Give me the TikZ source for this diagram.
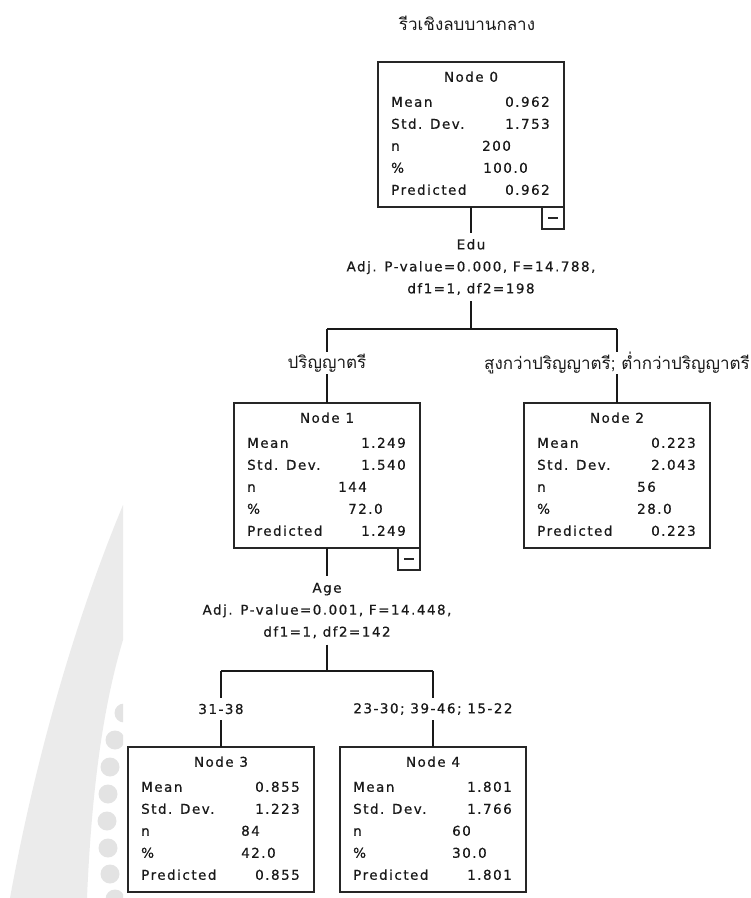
\documentclass[tikz,border=0pt]{standalone}
\usepackage{fontspec}
\setmainfont{DejaVu Sans}
\newfontfamily\boxfont[LetterSpace=11,FakeBold=0.6]{DejaVu Sans}
\newfontfamily\thaifont[Script=Thai]{Loma}
\usetikzlibrary{positioning}

\newcommand\statfont{\boxfont\fontsize{13.5}{22}\selectfont}
\newcommand\thaisize{\thaifont\fontsize{17}{20}\selectfont}

\tikzset{
  treeline/.style={line width=1.2pt, draw=black!90},
  statframe/.style={draw=black!85, line width=1.3pt, minimum width=186pt,
    minimum height=145pt, inner sep=0pt, outer sep=0pt, anchor=north west},
  minusbox/.style={draw=black!85, line width=1.1pt, minimum size=22pt,
    inner sep=0pt, outer sep=0pt, anchor=north east,
    path picture={\draw[line width=1.1pt]
      ([xshift=-5pt]path picture bounding box.center) --
      ([xshift=5pt]path picture bounding box.center);}},
  cell/.style={inner sep=0pt, text height=9.5pt, text depth=0pt,
    font=\statfont, text=black!90},
  splitlabel/.style={font=\statfont, align=center, inner xsep=2pt,
    inner ysep=6.5pt, outer sep=0pt, text=black!90},
  thailabel/.style={font=\thaisize, inner sep=0pt, outer sep=0pt,
    minimum height=22pt, text=black!90},
  rangelabel/.style={font=\statfont, inner sep=0pt, outer sep=0pt,
    minimum height=22pt, text=black!90},
  wmband/.style={fill=black!8},
  wmdot/.style={fill=black!11},
}

% one statistics box: name, left x, top y, number, mean, std. dev., predicted
\newcommand\statbox[7]{%
  \node[statframe] (#1) at (#2,#3) {};
  \node[cell, anchor=center] (#1-title) at ([yshift=-15pt]#1.north) {Node #4};
  \node[cell, anchor=west] (#1-mean) at ([xshift=13pt,yshift=-40pt]#1.north west) {Mean};
  \node[cell, anchor=east] (#1-meanv) at ([xshift=172pt,yshift=-40pt]#1.north west) {#5};
  \node[cell, anchor=west] (#1-sd) at ([xshift=13pt,yshift=-62pt]#1.north west) {Std. Dev.};
  \node[cell, anchor=east] (#1-sdv) at ([xshift=172pt,yshift=-62pt]#1.north west) {#6};
  \node[cell, anchor=west] (#1-n) at ([xshift=13pt,yshift=-84pt]#1.north west) {n};
  \node[cell, anchor=west] (#1-pct) at ([xshift=13pt,yshift=-106pt]#1.north west) {\%};
  \node[cell, anchor=west] (#1-pred) at ([xshift=13pt,yshift=-128pt]#1.north west) {Predicted};
  \node[cell, anchor=east] (#1-predv) at ([xshift=172pt,yshift=-128pt]#1.north west) {#7};
}
% count and percentage column: name, n, n offset, pct, pct offset
\newcommand\statcount[5]{%
  \node[cell, anchor=west] (#1-nv) at ([xshift=#3pt,yshift=-84pt]#1.north west) {#2};
  \node[cell, anchor=west] (#1-pctv) at ([xshift=#5pt,yshift=-106pt]#1.north west) {#4};
}

\begin{document}
\begin{tikzpicture}[x=1pt,y=-1pt]
\useasboundingbox (0,0) rectangle (751,898);

% faint background emblem
\begin{scope}
  \clip (0,0) rectangle (123,898);
  \fill[wmband] (123,505) -- (123,640) .. controls (105,700) and (92,780) .. (87,898)
    -- (10,898) .. controls (35,760) and (75,620) .. (123,505) -- cycle;
  \foreach \px/\py in {124/713,115/740,110/767,108/794,107/821,108/848,110/874,115/899}
    \fill[wmdot] (\px,\py) circle (9.5);
\end{scope}

% title
\node[font=\thaisize, text=black!90] (title) at (467,23) {รีวเชิงลบบานกลาง};

% boxes
\statbox{n0}{378}{62}{0}{0.962}{1.753}{0.962}
\statcount{n0}{200}{104}{100.0}{105}
\node[minusbox] (n0-minus) at (n0.south east) {};

\statbox{n1}{234}{403}{1}{1.249}{1.540}{1.249}
\statcount{n1}{144}{104}{72.0}{114}
\node[minusbox] (n1-minus) at (n1.south east) {};

\statbox{n2}{524}{403}{2}{0.223}{2.043}{0.223}
\statcount{n2}{56}{113}{28.0}{113}

\statbox{n3}{128}{747}{3}{0.855}{1.223}{0.855}
\statcount{n3}{84}{113}{42.0}{113}

\statbox{n4}{340}{747}{4}{1.801}{1.766}{1.801}
\statcount{n4}{60}{112}{30.0}{112}

% split descriptions
\node[splitlabel] (edu) at (471,267) {Edu\\Adj. P-value=0.000, F=14.788,\\df1=1, df2=198};
\node[splitlabel] (age) at (327,610.5) {Age\\Adj. P-value=0.001, F=14.448,\\df1=1, df2=142};

% branch labels
\node[thailabel] (b1) at (327,363) {ปริญญาตรี};
\node[thailabel] (b2) at (617,363) {สูงกว่าปริญญาตรี; ต่ำกว่าปริญญาตรี};
\node[rangelabel] (b3) at (221,709) {31-38};
\node[rangelabel] (b4) at (433,709) {23-30; 39-46; 15-22};

% branching points
\coordinate (s0) at (471,329);
\coordinate (s0l) at (327,329);
\coordinate (s0r) at (617,329);
\coordinate (s1) at (327,671);
\coordinate (s1l) at (221,671);
\coordinate (s1r) at (433,671);

% connectors
\draw[treeline] (n0.south) -- (edu.north);
\draw[treeline] (edu.south) -- (s0);
\draw[treeline] (s0l) -- (s0r);
\draw[treeline] (s0l) -- (b1.north);
\draw[treeline] (b1.south) -- (n1.north);
\draw[treeline] (s0r) -- (b2.north);
\draw[treeline] (b2.south) -- (n2.north);

\draw[treeline] (n1.south) -- (age.north);
\draw[treeline] (age.south) -- (s1);
\draw[treeline] (s1l) -- (s1r);
\draw[treeline] (s1l) -- (b3.north);
\draw[treeline] (b3.south) -- (n3.north);
\draw[treeline] (s1r) -- (b4.north);
\draw[treeline] (b4.south) -- (n4.north);
\end{tikzpicture}
\end{document}
